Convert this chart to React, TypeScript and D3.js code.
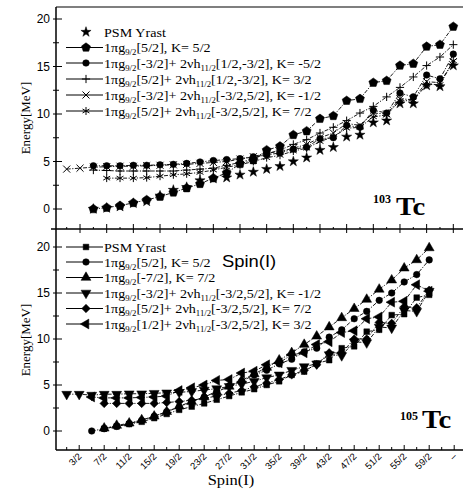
import React from 'react';
import * as d3 from 'd3';

const width = 463;
const height = 492;
const serif = "'Liberation Serif', 'Times New Roman', serif";
const sans = "'Liberation Sans', Arial, sans-serif";

// spins are kept as 2I (odd numbers), energies in MeV
const spinLabelAt = [3, 7, 11, 15, 19, 23, 27, 31, 35, 39, 43, 47, 51, 55, 59, 63];
const spinLabels = ['3/2', '7/2', '11/2', '15/2', '19/2', '23/2', '27/2', '31/2', '35/2', '39/2', '43/2', '47/2', '51/2', '55/2', '59/2', '–'];
const energyTicks = [0, 5, 10, 15, 20];

// ---- 103Tc ----
const yrast103From = 5;
const yrast103 = [0.0, 0.1, 0.25, 0.6, 0.8, 1.4, 2.0, 2.3, 3.0, 3.2, 3.3, 3.6, 3.9, 4.2, 4.5, 5.0, 5.4, 6.2, 6.5, 7.6, 7.8, 9.1, 9.3, 11.1, 11.1, 13.0, 12.9, 15.1];
const k52_103From = 5;
const k52_103 = [0.0, 0.15, 0.35, 0.65, 0.95, 1.3, 1.75, 2.2, 2.65, 3.25, 3.8, 4.75, 5.15, 6.2, 6.6, 7.8, 8.2, 9.5, 9.8, 11.4, 11.6, 13.3, 13.5, 15.1, 15.3, 17.1, 17.3, 19.2];
const km52_103From = 5;
const km52_103 = [4.55, 4.55, 4.55, 4.6, 4.6, 4.65, 4.7, 4.8, 4.95, 5.1, 5.2, 5.3, 5.5, 5.7, 5.9, 6.3, 6.5, 7.4, 7.5, 8.8, 8.6, 10.4, 10.1, 12.2, 11.8, 14.1, 13.7, 16.3];
const k32_103From = 5;
const k32_103 = [4.1, 4.05, 4.0, 4.0, 4.0, 4.0, 4.0, 4.1, 4.2, 4.3, 4.6, 4.9, 5.3, 5.8, 6.2, 6.8, 7.3, 8.0, 8.6, 9.3, 10.1, 10.8, 11.8, 12.8, 13.9, 15.1, 16.0, 17.3];
const km12_103From = 1;
const km12_103 = [4.2, 4.3, 4.4, 4.45, 4.5, 4.5, 4.55, 4.6, 4.65, 4.7, 4.8, 4.9, 5.0, 5.25, 5.5, 5.9, 6.05, 6.4, 6.8, 7.5, 8.0, 9.0, 8.8, 10.1, 10.0, 11.6, 11.5, 13.4, 13.3, 15.5];
const k72_103From = 7;
const k72_103 = [3.25, 3.25, 3.25, 3.3, 3.45, 3.6, 3.7, 3.85, 4.1, 4.4, 4.65, 5.0, 5.4, 5.65, 6.1, 6.4, 7.1, 7.6, 8.5, 8.6, 9.7, 9.9, 11.4, 11.4, 13.1, 13.1, 15.6];

// ---- 105Tc ----
const yrast105From = 7;
const yrast105 = [0.25, 0.5, 0.75, 1.0, 1.4, 1.85, 2.3, 2.65, 3.0, 3.4, 3.8, 4.2, 4.55, 5.0, 5.4, 6.1, 6.45, 7.35, 7.7, 9.0, 9.2, 10.8, 11.0, 12.6, 12.7, 14.5, 14.8];
const k52_105From = 5;
const k52_105 = [0.0, 0.25, 0.5, 0.8, 1.15, 1.6, 2.1, 2.6, 3.2, 3.7, 4.3, 4.9, 5.4, 6.1, 6.6, 7.3, 7.8, 8.6, 9.0, 10.2, 11.0, 12.2, 13.0, 14.2, 15.0, 16.2, 17.0, 18.6];
const k72a_105From = 7;
const k72a_105 = [0.3, 0.6, 0.85, 1.2, 1.6, 2.1, 2.7, 3.2, 3.7, 4.25, 4.85, 5.5, 6.2, 6.9, 7.7, 8.5, 9.4, 10.3, 11.3, 12.3, 13.3, 14.3, 15.4, 16.4, 17.7, 18.6, 19.9];
const km12_105From = 1;
const km12_105 = [4.0, 4.0, 3.9, 4.0, 4.0, 4.05, 4.05, 4.1, 4.15, 4.2, 4.3, 4.45, 4.6, 4.85, 5.1, 5.4, 5.8, 6.1, 6.6, 7.0, 7.3, 8.3, 8.2, 9.7, 9.6, 11.3, 11.2, 13.1, 13.0, 15.2];
const k72b_105From = 7;
const k72b_105 = [3.0, 3.0, 3.0, 3.0, 3.0, 3.1, 3.2, 3.35, 3.55, 3.8, 4.1, 4.4, 4.8, 5.2, 5.6, 6.1, 6.6, 7.2, 8.5, 8.5, 10.0, 10.0, 11.8, 11.7, 13.5, 13.4, 15.3];
const k32_105From = 5;
const k32_105 = [3.7, 3.6, 3.6, 3.6, 3.65, 3.7, 3.8, 4.4, 4.7, 5.0, 5.5, 5.6, 6.3, 6.5, 7.2, 7.4, 8.3, 8.5, 9.4, 9.7, 10.7, 10.9, 12.2, 12.4, 14.0, 14.1, 15.9, 15.2];

const legend103 = [
  'PSM Yrast',
  '1πg{9/2}[5/2], K= 5/2',
  '1πg{9/2}[-3/2]+ 2νh{11/2}[1/2,-3/2], K= -5/2',
  '1πg{9/2}[5/2]+ 2νh{11/2}[1/2,-3/2], K= 3/2',
  '1πg{9/2}[-3/2]+ 2νh{11/2}[-3/2,5/2], K= -1/2',
  '1πg{9/2}[5/2]+ 2νh{11/2}[-3/2,5/2], K= 7/2',
];
const legend105 = [
  'PSM Yrast',
  '1πg{9/2}[5/2], K= 5/2',
  '1πg{9/2}[-7/2], K= 7/2',
  '1πg{9/2}[-3/2]+ 2νh{11/2}[-3/2,5/2], K= -1/2',
  '1πg{9/2}[5/2]+ 2νh{11/2}[-3/2,5/2], K= 7/2',
  '1πg{9/2}[1/2]+ 2νh{11/2}[-3/2,5/2], K= 3/2',
];

const left = 56;
const right = width;
const topY = 7;
const midY = 229;
const bottomY = 450;

const xTop = d3.scaleLinear().domain([1, 59]).range([66.7, 453.3]);
const xBot = d3.scaleLinear().domain([1, 59]).range([66.7, 429.2]);
const yTop = d3.scaleLinear().domain([0, 20]).range([209, 19]);
const yBot = d3.scaleLinear().domain([0, 20]).range([431, 247]);

const pentagon = (r: number) =>
  d3.range(5).map(i => {
    const a = -Math.PI / 2 + (i * 2 * Math.PI) / 5;
    return (i ? 'L' : 'M') + (r * Math.cos(a)).toFixed(2) + ',' + (r * Math.sin(a)).toFixed(2);
  }).join('') + 'Z';

const shapes: Record<string, { d: string; rot?: number; open?: boolean }> = {
  star: { d: d3.symbol(d3.symbolStar, 32)()! },
  pentagon: { d: pentagon(4.7) },
  circle: { d: d3.symbol(d3.symbolCircle, 34)()! },
  plus: { d: d3.symbol(d3.symbolPlus, 24)()!, open: true },
  times: { d: d3.symbol(d3.symbolTimes, 34)()!, open: true },
  asterisk: { d: d3.symbol(d3.symbolAsterisk, 44)()!, open: true },
  square: { d: d3.symbol(d3.symbolSquare, 32)()! },
  triUp: { d: d3.symbol(d3.symbolTriangle, 42)()! },
  triDown: { d: d3.symbol(d3.symbolTriangle, 42)()!, rot: 180 },
  diamond: { d: d3.symbol(d3.symbolSquare, 36)()!, rot: 45 },
  triLeft: { d: d3.symbol(d3.symbolTriangle, 42)()!, rot: -90 },
};

function Marker({ shape, x, y }: { shape: string; x: number; y: number }) {
  const s = shapes[shape];
  return (
    <path
      d={s.d}
      transform={`translate(${x},${y})${s.rot ? ` rotate(${s.rot})` : ''}`}
      fill={s.open ? 'none' : '#000'}
      stroke="#000"
      strokeWidth={s.open ? 1 : 0.5}
    />
  );
}

type Series = { from: number; values: number[]; shape: string; line: boolean };

const topSeries: Series[] = [
  { from: yrast103From, values: yrast103, shape: 'star', line: false },
  { from: k52_103From, values: k52_103, shape: 'pentagon', line: true },
  { from: km52_103From, values: km52_103, shape: 'circle', line: true },
  { from: k32_103From, values: k32_103, shape: 'plus', line: true },
  { from: km12_103From, values: km12_103, shape: 'times', line: true },
  { from: k72_103From, values: k72_103, shape: 'asterisk', line: true },
];
const botSeries: Series[] = [
  { from: yrast105From, values: yrast105, shape: 'square', line: true },
  { from: k52_105From, values: k52_105, shape: 'circle', line: true },
  { from: k72a_105From, values: k72a_105, shape: 'triUp', line: true },
  { from: km12_105From, values: km12_105, shape: 'triDown', line: true },
  { from: k72b_105From, values: k72b_105, shape: 'diamond', line: true },
  { from: k32_105From, values: k32_105, shape: 'triLeft', line: true },
];

function Label({ x, y, text, size = 12.5 }: { x: number; y: number; text: string; size?: number }) {
  const parts = text.split(/(\{[^}]*\})/).filter(Boolean);
  let down = false;
  return (
    <text transform={`translate(${x},${y}) scale(1.13,1)`} fontFamily={serif} fontSize={size}>
      {parts.map((p, i) => {
        if (p.startsWith('{')) {
          down = true;
          return (
            <tspan key={i} fontSize={size * 0.62} dy={3}>
              {p.slice(1, -1)}
            </tspan>
          );
        }
        const dy = down ? -3 : 0;
        down = false;
        return (
          <tspan key={i} dy={dy}>
            {p}
          </tspan>
        );
      })}
    </text>
  );
}

function Panel({
  series, x, y, legend, legendY, legendStarOnly,
}: {
  series: Series[];
  x: d3.ScaleLinear<number, number>;
  y: d3.ScaleLinear<number, number>;
  legend: string[];
  legendY: number[];
  legendStarOnly: boolean;
}) {
  return (
    <g>
      {series.map((s, k) => {
        const pts = s.values.map((v, i) => [x(s.from + 2 * i), y(v)] as [number, number]);
        const path = d3.line()(pts);
        return (
          <g key={k}>
            {s.line && (
              <path d={path!} fill="none" stroke="#000" strokeWidth={0.9} strokeDasharray="4,1.5,1.2,1.5" />
            )}
            {pts.map((p, i) => (
              <Marker key={i} shape={s.shape} x={p[0]} y={p[1]} />
            ))}
          </g>
        );
      })}
      {legend.map((t, i) => {
        const ly = legendY[i];
        const noLine = legendStarOnly && i === 0;
        return (
          <g key={t + i}>
            {!noLine && <line x1={66} x2={103} y1={ly} y2={ly} stroke="#000" strokeWidth={1} />}
            <Marker shape={series[i].shape} x={86} y={ly} />
            <Label x={104} y={ly + 4.5} text={t} />
          </g>
        );
      })}
    </g>
  );
}

export default function App() {
  const topTicks = d3.range(1, 62, 2).filter(n => xTop(n) <= right);
  const botTicks = d3.range(1, 64, 2);
  const minorE = d3.range(0, 21, 2.5);
  return (
    <svg
      width={width}
      height={height}
      style={{ position: 'absolute', left: 0, top: 0, background: '#fff' }}
    >
      {/* frames */}
      <line x1={left} x2={right} y1={topY} y2={topY} stroke="#000" strokeWidth={1.2} />
      <line x1={left} x2={left} y1={topY} y2={bottomY} stroke="#000" strokeWidth={1.5} />
      <line x1={left - 5} x2={right} y1={midY} y2={midY} stroke="#000" strokeWidth={1.5} />
      <line x1={left} x2={right} y1={bottomY} y2={bottomY} stroke="#000" strokeWidth={1.5} />

      {/* top panel x ticks */}
      {topTicks.map(n => {
        const major = n % 4 === 3;
        return (
          <line key={'tt' + n} x1={xTop(n)} x2={xTop(n)} y1={midY - (major ? 5 : 2)} y2={midY + (major ? 4 : 0)} stroke="#000" strokeWidth={1} />
        );
      })}
      {/* bottom x ticks and labels */}
      {botTicks.map(n => (
        <line key={'bt' + n} x1={xBot(n)} x2={xBot(n)} y1={bottomY - (n % 4 === 3 ? 5 : 3)} y2={bottomY} stroke="#000" strokeWidth={1} />
      ))}
      {spinLabelAt.map((n, i) => (
        <text
          key={'sl' + n}
          transform={`translate(${xBot(n) + 3},${bottomY + 7}) rotate(-45)`}
          textAnchor="end"
          fontFamily={sans}
          fontSize={9.5}
        >
          {spinLabels[i]}
        </text>
      ))}
      <text x={231} y={485} textAnchor="middle" fontFamily={serif} fontSize={15} transform="translate(231,0) scale(1.1,1) translate(-231,0)">
        Spin(I)
      </text>

      {/* y ticks */}
      {[yTop, yBot].map((ys, p) => (
        <g key={'y' + p}>
          {minorE.map(v => {
            const major = v % 5 === 0;
            return (
              <line key={v} x1={left - 3} x2={left + (major ? 6 : 3)} y1={ys(v)} y2={ys(v)} stroke="#000" strokeWidth={1} />
            );
          })}
          {energyTicks.map(v => (
            <text key={'l' + v} x={50} y={ys(v) + 4} textAnchor="end" fontFamily={sans} fontSize={12}>
              {v}
            </text>
          ))}
          <text
            transform={`translate(30,${p === 0 ? 118 : 340}) rotate(-90)`}
            textAnchor="middle"
            fontFamily={serif}
            fontSize={13}
          >
            Energy[MeV]
          </text>
        </g>
      ))}

      <Panel series={topSeries} x={xTop} y={yTop} legend={legend103} legendY={[32, 47.5, 63, 79, 95, 111]} legendStarOnly />
      <Panel series={botSeries} x={xBot} y={yBot} legend={legend105} legendY={[247, 262, 277.5, 293, 308.5, 324]} legendStarOnly={false} />

      <text x={222} y={267} fontFamily={sans} fontSize={16} transform="translate(222,0) scale(1.15,1) translate(-222,0)">
        Spin(I)
      </text>

      {/* nucleus labels */}
      <text x={373} y={203} fontFamily={serif} fontWeight="bold" fontSize={12}>103</text>
      <text x={396} y={215} fontFamily={serif} fontWeight="bold" fontSize={26} transform="translate(396,0) scale(1.1,1) translate(-396,0)">Tc</text>
      <text x={400} y={420} fontFamily={serif} fontWeight="bold" fontSize={12}>105</text>
      <text x={422} y={428} fontFamily={serif} fontWeight="bold" fontSize={26} transform="translate(422,0) scale(1.1,1) translate(-422,0)">Tc</text>
    </svg>
  );
}
